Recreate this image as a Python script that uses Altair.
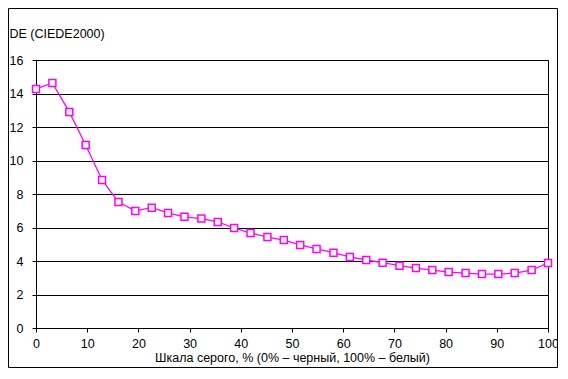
import altair as alt
import pandas as pd

gray_pct = [0, 3.2, 6.5, 9.7, 12.9, 16.1, 19.4, 22.6, 25.8, 29.0, 32.3, 35.5,
            38.7, 41.9, 45.2, 48.4, 51.6, 54.8, 58.1, 61.3, 64.5, 67.7, 71.0,
            74.2, 77.4, 80.6, 83.9, 87.1, 90.3, 93.5, 96.8, 100]
de_values = [14.27, 14.63, 12.9, 10.93, 8.84, 7.52, 6.99, 7.18, 6.87, 6.64,
             6.53, 6.33, 5.97, 5.67, 5.43, 5.25, 4.96, 4.72, 4.50, 4.24, 4.06,
             3.90, 3.72, 3.58, 3.46, 3.34, 3.28, 3.22, 3.22, 3.28, 3.46, 3.88]
x_ticks = [0, 10, 20, 30, 40, 50, 60, 70, 80, 90, 100]
y_ticks = [0, 2, 4, 6, 8, 10, 12, 14, 16]

df = pd.DataFrame({"x": gray_pct, "y": de_values})

FONT = "Liberation Sans"
FS = 12.5
MAG = "#FF00FF"

W, H = 512, 268
PL, PT, PR, PB = 28, 52, 10, 40

x_enc = alt.X("x:Q", scale=alt.Scale(domain=[0, 100], nice=False),
              axis=alt.Axis(values=x_ticks, grid=False, tickSize=4,
                            labelPadding=5, labelFontSize=FS, labelFont=FONT,
                            labelColor="black", domainColor="black",
                            tickColor="black", labelFlush=False,
                            labelOverlap=False,
                            title="Шкала серого, % (0% – черный, 100% – белый)",
                            titleFont=FONT, titleFontSize=FS,
                            titleFontWeight="normal", titleColor="black",
                            titleBaseline="middle", titleY=29))
y_enc = alt.Y("y:Q", scale=alt.Scale(domain=[0, 16], nice=False),
              axis=alt.Axis(values=y_ticks, grid=True, gridColor="black",
                            gridOpacity=1, tickSize=4, labelPadding=9,
                            labelFontSize=FS, labelFont=FONT,
                            labelColor="black", domainColor="black",
                            tickColor="black", labelOverlap=False,
                            title="DE (CIEDE2000)", titleAngle=0,
                            titleAlign="left", titleBaseline="middle",
                            titleX=-27, titleY=-27, titleFont=FONT,
                            titleFontSize=FS, titleFontWeight="normal",
                            titleColor="black"))

base = alt.Chart(df).encode(x=x_enc, y=y_enc)
line = base.mark_line(color=MAG, strokeWidth=1.3)
pts = base.mark_point(shape="square", size=49, filled=True,
                      fill="white", stroke=MAG, strokeWidth=1.5, opacity=1)

border = alt.Chart(pd.DataFrame({"a": [0]})).mark_rect(
    fill=None, stroke="black", strokeWidth=1, clip=False
).encode(x=alt.value(-PL + 0.5), x2=alt.value(W + PR - 0.5),
         y=alt.value(-PT + 0.5), y2=alt.value(H + PB - 0.5))

chart = alt.layer(border, line, pts).properties(
    width=W, height=H,
    autosize=alt.AutoSizeParams(type="none"),
    padding={"left": PL, "top": PT, "right": PR, "bottom": PB},
    background="white",
).configure_view(stroke="black", strokeWidth=1)

chart.save("out.html", embed_options={"renderer": "svg", "actions": False})
